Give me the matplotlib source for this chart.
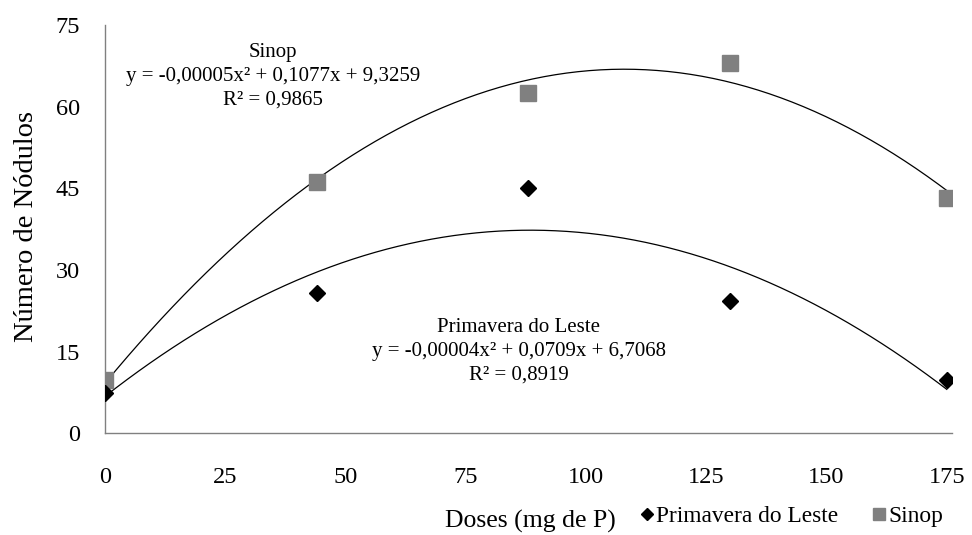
import matplotlib.pyplot as plt
import numpy as np

plt.rcParams["font.family"] = ["Liberation Serif", "DejaVu Serif"]

# dados
doses = [0, 44, 88, 130, 175]
primavera = [7.5, 25.7, 45.0, 24.4, 9.8]
sinop = [9.8, 46.2, 62.6, 68.0, 43.3]

x_ticks = [0, 25, 50, 75, 100, 125, 150, 175]
y_ticks = [0, 15, 30, 45, 60, 75]

eq_sinop = "Sinop\ny = -0,00005x² + 0,1077x + 9,3259\nR² = 0,9865"
eq_prim = "Primavera do Leste\ny = -0,00004x² + 0,0709x + 6,7068\nR² = 0,8919"

fig = plt.figure(figsize=(9.72, 5.35), dpi=100)
ax = fig.add_axes([0.108, 0.19, 0.871, 0.763])

# linhas de tendência polinomiais (ordem 2)
xs = np.linspace(0, 175, 300)
for vals in (primavera, sinop):
    coef = np.polyfit(doses, vals, 2)
    ax.plot(xs, np.polyval(coef, xs), color="black", lw=0.9, zorder=2)

ax.plot(doses, sinop, ls="none", marker="s", ms=12, color="#808080",
        label="Sinop", zorder=3)
ax.plot(doses, primavera, ls="none", marker="D", ms=8, color="black",
        label="Primavera do Leste", zorder=4)

ax.set_xlim(0, 176)
ax.set_ylim(0, 75)
ax.set_xticks(x_ticks)
ax.set_yticks(y_ticks)
ax.tick_params(axis="both", length=0, labelsize=17.5)
ax.tick_params(axis="x", pad=24)
ax.tick_params(axis="y", pad=18)
for side in ("top", "right"):
    ax.spines[side].set_visible(False)
for side in ("left", "bottom"):
    ax.spines[side].set_color("#808080")
    ax.spines[side].set_linewidth(1)

ax.text(35, 71.7, eq_sinop, ha="center", va="top", fontsize=15,
        linespacing=1.35)
ax.text(86, 21.2, eq_prim, ha="center", va="top", fontsize=15,
        linespacing=1.35)

fig.text(0.027, 0.576, "Número de Nódulos", rotation=90, ha="center",
         va="center", fontsize=20.5)
fig.text(0.546, 0.026, "Doses (mg de P)", ha="center", va="center",
         fontsize=18.5)

handles, labels = ax.get_legend_handles_labels()
fig.legend(handles[::-1], labels[::-1], loc="center left",
           bbox_to_anchor=(0.644, 0.034), ncol=2, frameon=False,
           fontsize=16.8, handletextpad=0.0, columnspacing=1.35,
           handlelength=0.8, markerscale=0.75, borderpad=0)

fig.savefig("out.png", dpi=100)
